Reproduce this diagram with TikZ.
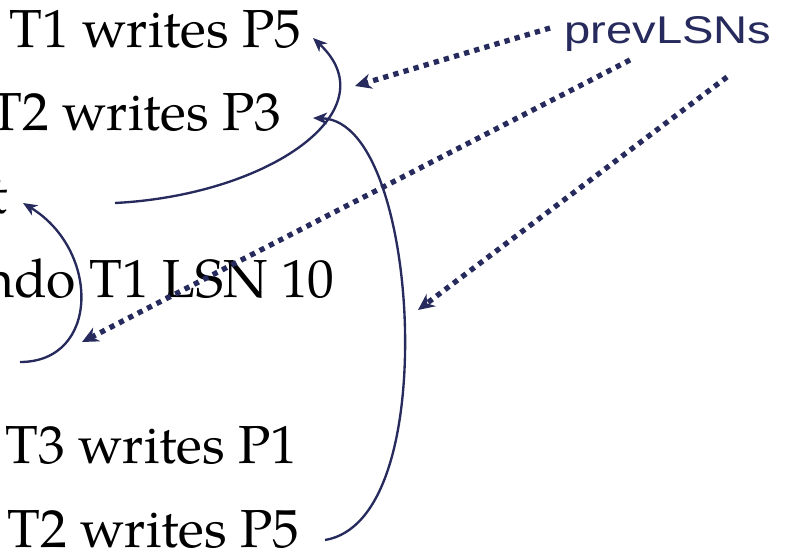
\documentclass[tikz,border=0pt]{standalone}
\usepackage{fontspec}
\setmainfont{TeX Gyre Pagella}
\setsansfont{Liberation Sans}
\usepackage{tikz}
\usetikzlibrary{arrows.meta,positioning}
\definecolor{lsnblue}{RGB}{38,42,92}
\tikzset{
    x=0.03cm,y=-0.03cm,
    rec/.style={inner sep=0pt,font=\fontsize{45.7}{55}\selectfont},
    back/.style={lsnblue,line width=2pt,-{Stealth[length=12pt,width=10pt,inset=3.5pt]}},
    prevptr/.style={lsnblue,line width=4.5pt,dash pattern=on 4.5pt off 4.5pt,
                    -{Stealth[length=14pt,width=13pt,inset=4.5pt]}},
    lbl/.style={inner sep=0pt,text=lsnblue,xscale=1.22,font=\sffamily\fontsize{33}{38}\selectfont}
}
\begin{document}
\begin{tikzpicture}
      \useasboundingbox (0,0) rectangle (792,559);
      \node[rec,anchor=base west] (1) at (9,47) {T1 writes P5};
      \node[rec,anchor=base east] (2) at (282,130) {T2 writes P3};
      \node[rec,anchor=base east] (3) at (8,213) {t};
      \node[rec,anchor=base east] (4) at (335,297) {ndo T1 LSN 10};
      \node[rec,anchor=base west] (5) at (5,463) {T3 writes P1};
      \node[rec,anchor=base west] (6) at (7,547) {T2 writes P5};
      \node[lbl,anchor=base west] (prev) at (564,43) {prevLSNs};

      % ends of the back pointers
      \coordinate (t1) at (313,38);
      \coordinate (t2) at (313,118);
      \coordinate (t3) at (23,203);
      \coordinate (f3) at (115,203);
      \coordinate (f4) at (20,362);
      \coordinate (f6) at (325,540);

      \draw[back] (f3) .. controls (270,195) and (390,110) .. (t1);
      \draw[back] (f6) .. controls (385,530) and (407,430) .. (405,330)
                       .. controls (403,230) and (375,120) .. (t2);
      \draw[back] (f4) .. controls (100,362) and (100,250) .. (t3);

      % prevLSN pointers
      \coordinate (s1) at (550,28);
      \coordinate (s2) at (630,60);
      \coordinate (s3) at (727,77);
      \coordinate (e1) at (355,86);
      \coordinate (e2) at (82,342);
      \coordinate (e3) at (418,310);

      \path (s1) edge[prevptr] (e1);
      \path (s2) edge[prevptr] (e2);
      \path (s3) edge[prevptr] (e3);
\end{tikzpicture}
\end{document}
